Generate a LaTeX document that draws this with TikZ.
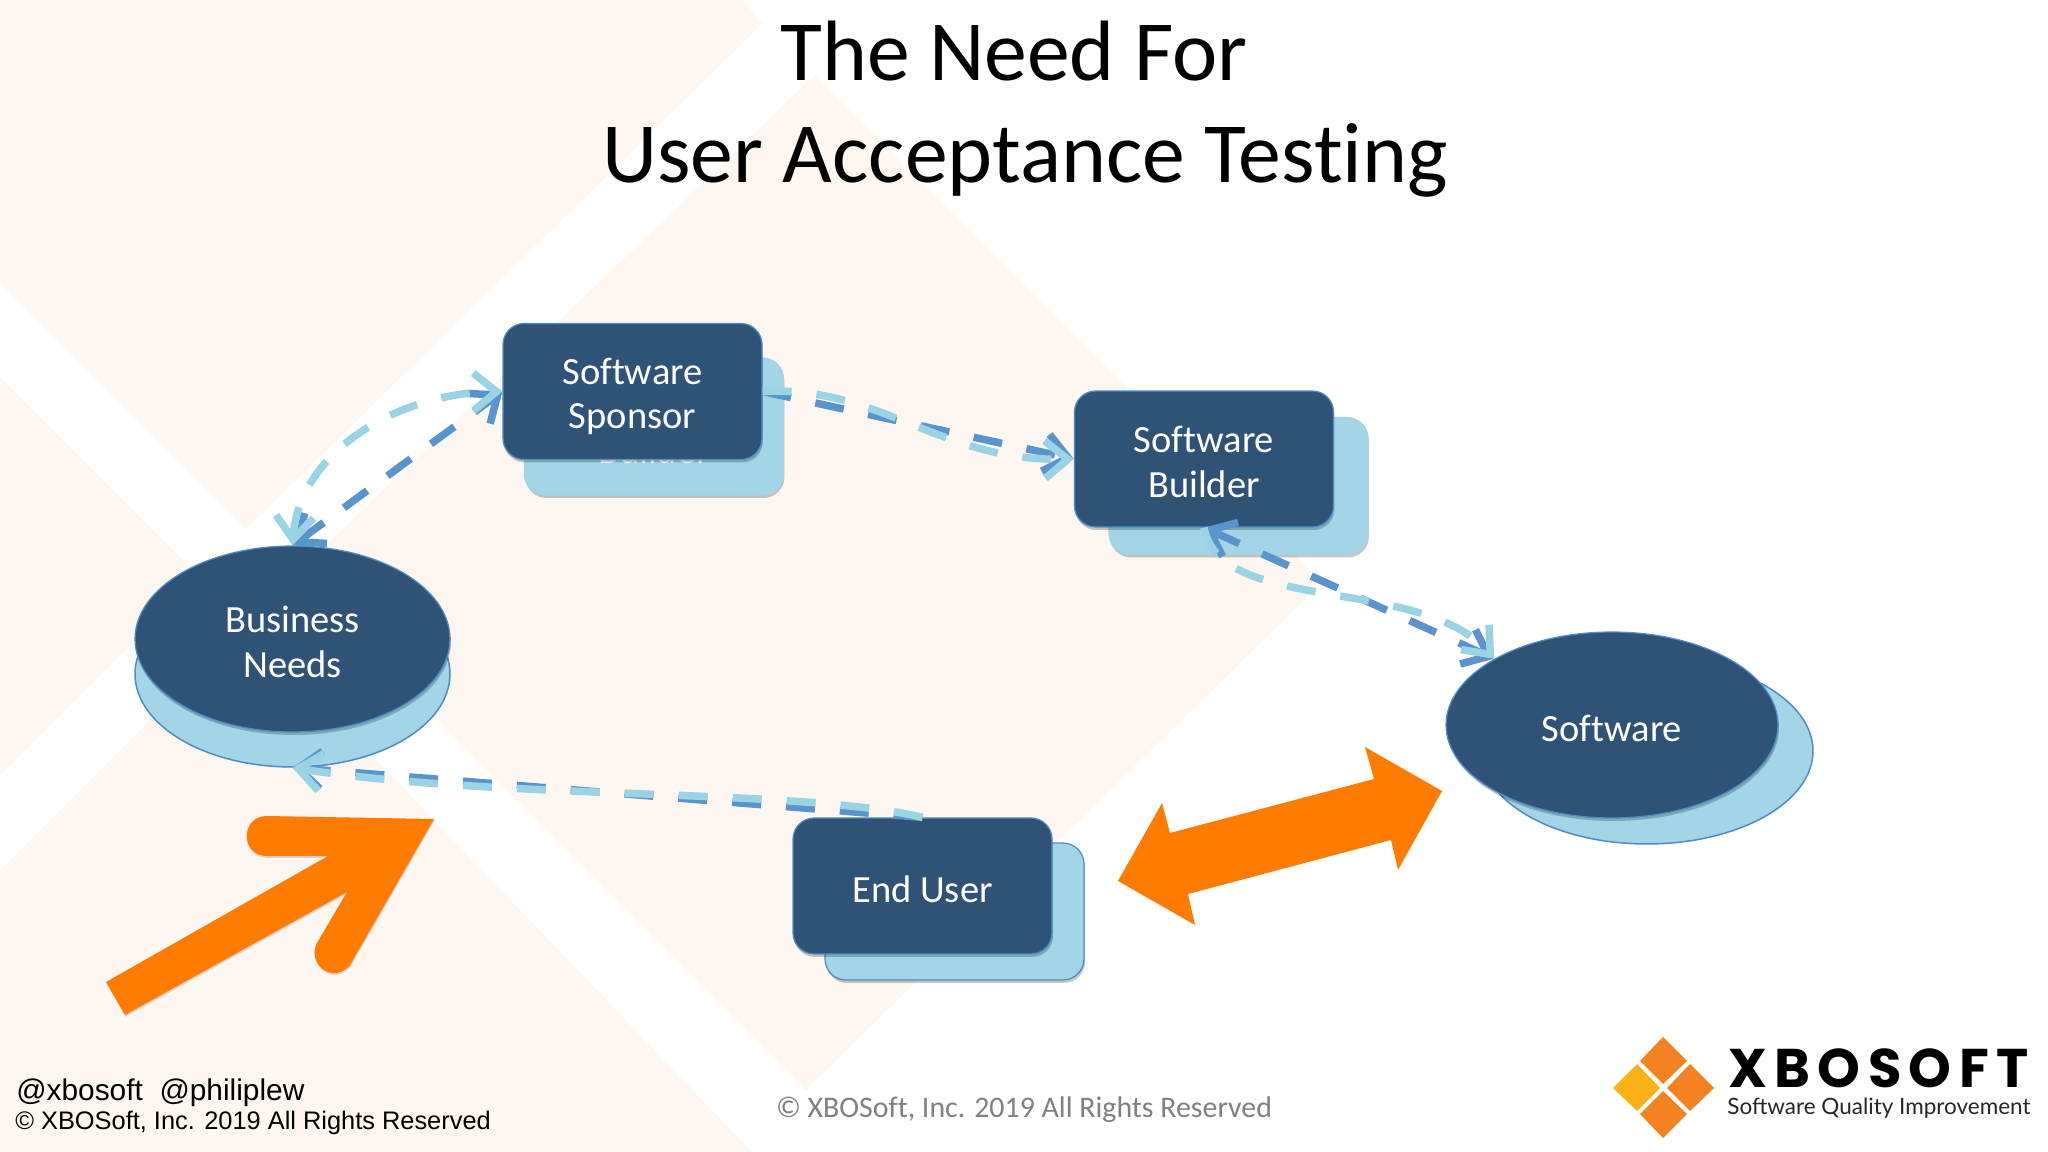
\documentclass[tikz,border=0pt]{standalone}
\usepackage{fontspec}
\setmainfont[Ligatures=CommonOff]{Carlito}
\newfontfamily\arialf{Liberation Sans}
\newfontfamily\logof{Poppins}
\newfontfamily\tagf{Lato}
\usetikzlibrary{arrows.meta,shapes.geometric,shadows,calc}
\definecolor{deep}{HTML}{2F5376}
\definecolor{pale}{HTML}{A3D5E6}
\definecolor{rim}{HTML}{4F8CC4}
\definecolor{dashdark}{HTML}{5A94CC}
\definecolor{dashpale}{HTML}{9AD3E3}
\definecolor{peach}{HTML}{FEF6F0}
\definecolor{orangeB}{HTML}{FF7C00}
\definecolor{logoO}{HTML}{F58220}
\definecolor{logoY}{HTML}{FBB216}
\newcommand\dnstrut{\rule{0pt}{18.6pt}}
\newcommand\dnstrutB{\rule{0pt}{20.4pt}}
\tikzset{
  softshadow/.style={drop shadow={shadow xshift=0.02cm,shadow yshift=-0.06cm,opacity=0.22,fill=black}},
  thinshadow/.style={drop shadow={shadow xshift=0.01cm,shadow yshift=-0.035cm,opacity=0.14,fill=black}},
  frontbox/.style={draw=rim,line width=0.025cm,fill=deep,rounded corners=0.42cm,text=white,align=center,
     minimum width=5.18cm,minimum height=2.72cm,inner sep=0pt,font=\fontsize{21.9pt}{25.4pt}\selectfont,softshadow},
  backbox/.style={draw=rim,line width=0.025cm,fill=pale,rounded corners=0.42cm,
     minimum width=5.18cm,minimum height=2.74cm,inner sep=0pt,softshadow},
  frontell/.style={ellipse,draw=rim,line width=0.025cm,fill=deep,text=white,align=center,inner sep=0pt,
     font=\fontsize{21.9pt}{25.4pt}\selectfont,softshadow},
  backell/.style={ellipse,draw=rim,line width=0.03cm,fill=pale,inner sep=0pt},
  dashlink/.style={line width=0.15cm,dash pattern=on 0.58cm off 0.5cm},
  darklink/.style={dashlink,draw=dashdark},
  palelink/.style={dashlink,draw=dashpale},
  barb/.tip={Straight Barb[length=0.46cm,width=0.75cm]},
  bigarrow/.style={fill=orangeB,draw=none},
  titletext/.style={font=\fontsize{48.8pt}{56pt}\selectfont,text=black,inner sep=0pt,anchor=base},
}
\begin{document}
\begin{tikzpicture}[x=0.02cm,y=-0.02cm]
\useasboundingbox (0,0) rectangle (2048,1152);
% background
\fill[peach] (0,0) -- (742,0) -- (763,23) -- (246,529) -- (0,283) -- cycle;
\fill[peach] (0,377) -- (199,576) -- (0,775) -- cycle;
\fill[peach] (815,75) -- (1322,582) -- (806,1090) -- (293,577) -- cycle;
\fill[peach] (0,870) -- (246,624) -- (752,1152) -- (0,1152) -- cycle;
% title
\node[titletext] (title1) at (1014,81) {The Need For};
\node[titletext] (title2) at (1025,183) {User Acceptance Testing};
% back shapes
\node[backbox,draw=pale] (sponsorback) at (654,426.5) {};
\node[white,font=\fontsize{21.9pt}{25.4pt}\selectfont,inner sep=0pt,anchor=base] (sponsorbacktext) at (654,463) {Builder};
\node[backbox,draw=pale] (builderback) at (1238.5,486) {};
\node[backbox] (enduserback) at (954.5,911.5) {};
\node[backell,minimum width=6.3cm,minimum height=3.72cm] (businessback) at (292.5,674) {};
\node[backell,minimum width=6.64cm,minimum height=3.72cm] (softwareback) at (1647,751) {};
% front shapes
\node[frontbox] (sponsor) at (632.5,391.5) {\dnstrutB Software\\Sponsor};
\node[frontbox] (builder) at (1204,459) {\dnstrut Software\\Builder};
\node[frontbox] (enduser) at (922.5,886) {\dnstrut End User};
\node[frontell,minimum width=6.3cm,minimum height=3.72cm] (business) at (292.5,639) {\dnstrut Business\\Needs};
\node[frontell,minimum width=6.64cm,minimum height=3.72cm] (software) at (1612,725) {\dnstrut Software};
% connectors
\draw[darklink,barb-barb] (business.north) -- (sponsor.west);
\draw[palelink,barb-barb] (business.north) .. controls (300,450) and (400,393) .. (sponsor.west);
\draw[darklink,-barb] (sponsor.east) -- (builder.west);
\draw[palelink,-barb] (sponsor.east) .. controls (880,385) and (940,462) .. (builder.west);
\draw[darklink,barb-barb] (builder.south) -- (software.north west);
\draw[palelink,-barb] (builder.south) .. controls (1220,615) and (1420,575) .. (software.north west);
\draw[darklink,-barb] (enduser.north) -- (businessback.south);
\draw[palelink,-barb] (enduser.north) .. controls (800,788) and (500,800) .. (businessback.south);
% orange arrows
\fill[bigarrow] (1442,791) -- (1365,747) -- (1374,779) -- (1170,833) -- (1162,803) -- (1118,881) -- (1195,925) -- (1188,894) -- (1391,840) -- (1398,870) -- cycle;
\fill[bigarrow,thinshadow] (106,982) -- (328,856) -- (267,856) .. controls (240,856) and (240,816) .. (267,816) -- (434,819) -- (350,965)
   .. controls (340,978) and (322,975) .. (316,960) .. controls (313,952) and (315,947) .. (317,943) -- (347,892) -- (125,1015) -- cycle;
% logo
\fill[logoO] (1663,1037) -- (1687,1061) -- (1663,1084) -- (1640,1061) -- cycle;
\fill[logoY] (1637,1064) -- (1660,1088) -- (1637,1111) -- (1613,1088) -- cycle;
\fill[logoO] (1690,1064) -- (1714,1088) -- (1690,1111) -- (1667,1088) -- cycle;
\fill[logoO] (1663,1091) -- (1687,1114) -- (1663,1138) -- (1640,1114) -- cycle;
\node[font=\logof\bfseries\fontsize{31pt}{31pt}\selectfont,text=black,inner sep=0pt,anchor=base west,text depth=0pt] (logotext) at (1728,1087) {X\kern4.2pt B\kern4.2pt O\kern4.2pt S\kern4.2pt O\kern4.2pt F\kern4.2pt T};
\node[font=\tagf\fontsize{12.8pt}{15pt}\selectfont,text=black!85,inner sep=0pt,anchor=base west,text height=9pt] (logotag) at (1727,1114) {Software Quality Improvement};
% footers
\node[font=\fontsize{17pt}{20pt}\selectfont,text=black!50,inner sep=0pt,anchor=base] (footc) at (1024,1117) {© XBOSoft, Inc. 2019 All Rights Reserved};
\node[font=\arialf\fontsize{17pt}{20pt}\selectfont,text=black,inner sep=0pt,anchor=base west] (handles) at (16,1100) {@xbosoft\ \ @philiplew};
\node[font=\arialf\fontsize{14.45pt}{18pt}\selectfont,text=black,inner sep=0pt,anchor=base west] (footl) at (15,1129) {© XBOSoft, Inc. 2019 All Rights Reserved};
\end{tikzpicture}
\end{document}
